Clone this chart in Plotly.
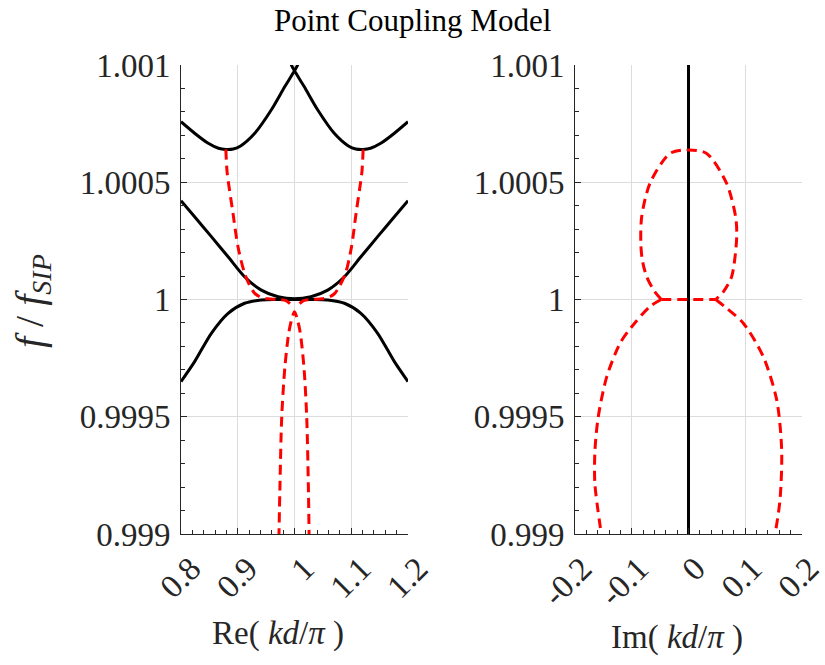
import plotly.graph_objects as go

# ---------------- data ----------------
# Left panel: Re(kd/pi) vs f/f_SIP
upper_left_x = [0.800, 0.824, 0.848, 0.866, 0.879, 0.892, 0.905, 0.930, 0.959, 0.983, 1.000, 1.006]
upper_left_y = [1.000758, 1.000709, 1.000666, 1.000645, 1.000640, 1.000642, 1.000655, 1.000709, 1.000808, 1.000908, 1.000975, 1.001002]
upper_right_x = [0.994, 1.000, 1.017, 1.041, 1.070, 1.095, 1.108, 1.121, 1.134, 1.152, 1.176, 1.200]
upper_right_y = [1.001002, 1.000975, 1.000908, 1.000808, 1.000709, 1.000655, 1.000642, 1.000640, 1.000645, 1.000666, 1.000709, 1.000758]

mid_x = [0.800, 0.824, 0.8535, 0.883, 0.912, 0.9415, 0.971, 1.000, 1.029, 1.0585, 1.088, 1.117, 1.1465, 1.176, 1.200]
mid_y = [1.000421, 1.000353, 1.000268, 1.000182, 1.000097, 1.000040, 1.000012, 1.000003, 1.000012, 1.000040, 1.000097, 1.000182, 1.000268, 1.000353, 1.000421]

low_x = [0.800, 0.824, 0.8535, 0.883, 0.912, 0.9415, 0.970, 1.000, 1.030, 1.0585, 1.088, 1.117, 1.1465, 1.176, 1.200]
low_y = [0.999650, 0.999735, 0.999856, 0.999941, 0.999984, 0.999998, 1.000000, 1.000000, 1.000000, 0.999998, 0.999984, 0.999941, 0.999856, 0.999735, 0.999650]

red_outer_l_x = [0.879, 0.881, 0.8835, 0.8916, 0.9004, 0.912, 0.921, 0.930, 0.940, 0.953, 0.970, 0.985, 0.994]
red_outer_l_y = [1.000640, 1.000550, 1.000500, 1.000368, 1.000225, 1.000112, 1.000060, 1.000026, 1.000010, 1.000003, 1.000000, 0.999995, 0.999978]
red_outer_r_x = [1.121, 1.119, 1.1165, 1.1085, 1.1005, 1.090, 1.080, 1.071, 1.061, 1.049, 1.031, 1.016, 1.007]
red_outer_r_y = [1.000640, 1.000550, 1.000500, 1.000368, 1.000225, 1.000112, 1.000060, 1.000026, 1.000010, 1.000003, 1.000000, 0.999995, 0.999978]

red_inner_x = [0.9725, 0.9745, 0.9775, 0.983, 0.990, 0.9955, 1.000, 1.0045, 1.010, 1.0167, 1.0215, 1.0243, 1.0258]
red_inner_y = [0.998980, 0.999220, 0.999500, 0.999710, 0.999860, 0.999920, 0.999948, 0.999920, 0.999860, 0.999710, 0.999500, 0.999220, 0.998980]

# Right panel: Im(kd/pi) vs f/f_SIP
im_real_x = [0.0, 0.0]
im_real_y = [0.999, 1.001]
im_dot_x = [0.0]
im_dot_y = [1.000638]

loop_up_x = [-0.048, -0.060, -0.0737, -0.0815, -0.084, -0.0825, -0.0678, -0.0326, 0.0, 0.032, 0.067, 0.083, 0.085, 0.076, 0.062, 0.048]
loop_up_y = [1.000000, 1.000035, 1.000097, 1.000170, 1.000240, 1.000353, 1.000496, 1.000623, 1.000638, 1.000623, 1.000496, 1.000353, 1.000268, 1.000097, 1.000035, 1.000000]

flat_x = [-0.048, 0.048]
flat_y = [1.000000, 1.000000]

loop_low_l_x = [-0.048, -0.068, -0.100, -0.1207, -0.144, -0.159, -0.1648, -0.165, -0.153]
loop_low_l_y = [1.000000, 0.999970, 0.999884, 0.999813, 0.999671, 0.999500, 0.999358, 0.999216, 0.998990]
loop_low_r_x = [0.048, 0.067, 0.0966, 0.1318, 0.1555, 0.1642, 0.1612, 0.152]
loop_low_r_y = [1.000000, 0.999963, 0.999899, 0.999756, 0.999571, 0.999358, 0.999145, 0.998990]

# ticks
y_ticks = [0.999, 0.9995, 1.0, 1.0005, 1.001]
y_ticktext = ["0.999", "0.9995", "1", "1.0005", "1.001"]
re_ticks = [0.8, 0.9, 1.0, 1.1, 1.2]
re_ticktext = ["0.8", "0.9", "1", "1.1", "1.2"]
im_ticks = [-0.2, -0.1, 0.0, 0.1, 0.2]
im_ticktext = ["-0.2", "-0.1", "0", "0.1", "0.2"]

# ---------------- figure ----------------
FONT = "Liberation Serif, Times New Roman, serif"
TXT = "#262626"
blk = dict(color="black", width=3)
red = dict(color="#ff0000", width=3, dash="10px,6px")

fig = go.Figure()

def add(x, y, line, xa, ya, shape="spline"):
    fig.add_trace(go.Scatter(x=x, y=y, mode="lines", line=dict(**line, shape=shape, smoothing=0.8),
                             xaxis=xa, yaxis=ya, showlegend=False, hoverinfo="skip", cliponaxis=True))

add(upper_left_x, upper_left_y, blk, "x", "y")
add(upper_right_x, upper_right_y, blk, "x", "y")
add(mid_x, mid_y, blk, "x", "y")
add(low_x, low_y, blk, "x", "y")
add(red_outer_l_x, red_outer_l_y, red, "x", "y")
add(red_outer_r_x, red_outer_r_y, red, "x", "y")
add(red_inner_x, red_inner_y, red, "x", "y")

add(im_real_x, im_real_y, blk, "x2", "y2", shape="linear")
fig.add_trace(go.Scatter(x=im_dot_x, y=im_dot_y, mode="markers", marker=dict(color="black", size=4),
                         xaxis="x2", yaxis="y2", showlegend=False, hoverinfo="skip"))
add(loop_up_x, loop_up_y, red, "x2", "y2")
add(flat_x, flat_y, red, "x2", "y2", shape="linear")
add(loop_low_l_x, loop_low_l_y, red, "x2", "y2")
add(loop_low_r_x, loop_low_r_y, red, "x2", "y2")

# the page body margin is removed (see post_script), so figure pixels = screen pixels
W, H = 825, 665
L1, R1 = 181, 408
L2, R2 = 575, 802
T, B = 65, 534

common_axis = dict(
    showline=True, linecolor=TXT, linewidth=1, mirror=False,
    showgrid=True, gridcolor="#dcdcdc", gridwidth=1,
    ticks="inside", ticklen=6, tickcolor=TXT, tickwidth=1,
    tickfont=dict(family=FONT, size=33, color=TXT),
    zeroline=False, automargin=False,
)
yminor = dict(ticks="inside", ticklen=4, tickcolor=TXT, dtick=0.0001, showgrid=False)

fig.update_layout(
    width=W, height=H,
    margin=dict(l=0, r=0, t=0, b=0),
    paper_bgcolor="white", plot_bgcolor="white",
    xaxis=dict(common_axis, domain=[L1 / W, R1 / W], range=[0.8, 1.2],
               tickvals=re_ticks, ticktext=re_ticktext, tickangle=-45,
               ticklabelshift=10, ticklabelstandoff=1, ticklabeloverflow="allow",
               minor=dict(ticks="inside", ticklen=4, tickcolor=TXT, dtick=0.02, tick0=0.8, showgrid=False),
               anchor="y"),
    yaxis=dict(common_axis, domain=[1 - B / H, 1 - T / H], range=[0.999, 1.001],
               tickvals=y_ticks, ticktext=y_ticktext, ticklabelstandoff=3,
               minor=dict(yminor, tick0=0.999), anchor="x"),
    xaxis2=dict(common_axis, domain=[L2 / W, R2 / W], range=[-0.2, 0.2],
                tickvals=im_ticks, ticktext=im_ticktext, tickangle=-45,
                ticklabelshift=7, ticklabelstandoff=1, ticklabeloverflow="allow",
                minor=dict(ticks="inside", ticklen=4, tickcolor=TXT, dtick=0.02, tick0=-0.2, showgrid=False),
                anchor="y2"),
    yaxis2=dict(common_axis, domain=[1 - B / H, 1 - T / H], range=[0.999, 1.001],
                tickvals=y_ticks, ticktext=y_ticktext, ticklabelstandoff=3,
                minor=dict(yminor, tick0=0.999), anchor="x2"),
    annotations=[
        dict(text="Point Coupling Model", x=412 / W, y=1 - 20 / H, xref="paper", yref="paper",
             showarrow=False, font=dict(family=FONT, size=31, color="black"), xanchor="center", yanchor="middle"),
        dict(text="Re( <i>kd</i>/<i>π</i> )", x=278 / W, y=1 - 633 / H, xref="paper", yref="paper",
             showarrow=False, font=dict(family=FONT, size=33, color=TXT), xanchor="center", yanchor="middle"),
        dict(text="Im( <i>kd</i>/<i>π</i> )", x=677 / W, y=1 - 637 / H, xref="paper", yref="paper",
             showarrow=False, font=dict(family=FONT, size=33, color=TXT), xanchor="center", yanchor="middle"),
        dict(text="<i>f</i> / <i>f</i><sub><i>SIP</i></sub>", x=32 / W, y=1 - 301 / H,
             xref="paper", yref="paper",
             showarrow=False, textangle=-90, font=dict(family=FONT, size=40, color=TXT),
             xanchor="center", yanchor="middle"),
    ],
)

fig.write_html(
    "out.html",
    config={"displayModeBar": False, "staticPlot": True},
    post_script="document.body.style.margin='0';document.body.style.overflow='hidden';",
)
